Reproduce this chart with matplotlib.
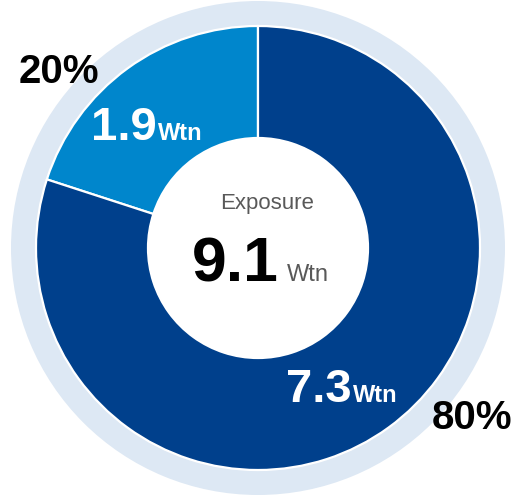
import matplotlib
matplotlib.use("Agg")
import matplotlib.pyplot as plt

plt.rcParams['font.family'] = ['Liberation Sans', 'DejaVu Sans']

# data
values = [1.9, 7.3]
share_pct = [20, 80]
colors = ['#0086cc', '#00408c']
total = 9.1
center_title = 'Exposure'
unit = 'Wtn'

W, H = 519, 495
fig = plt.figure(figsize=(W / 100, H / 100), dpi=100)
ax = fig.add_axes([0, 0, 1, 1])

cx, cy = 258, H - 248

# light background ring
ax.pie([1], radius=247, center=(cx, cy), colors=['#dde8f4'],
       wedgeprops=dict(width=26, edgecolor='none'))
# main donut, slices sized by share
ax.pie(share_pct, radius=222, center=(cx, cy), colors=colors, startangle=90,
       counterclock=True,
       wedgeprops=dict(width=112, edgecolor='white', linewidth=1.6))

ax.set_xlim(0, W)
ax.set_ylim(0, H)
ax.set_aspect('equal')
ax.axis('off')


def py(y):
    return H - y


# slice value labels
ax.text(157, py(140), f'{values[0]}', color='white', fontsize=34,
        fontweight='bold', ha='right', va='baseline')
ax.text(158, py(140), unit, color='white', fontsize=17,
        fontweight='bold', ha='left', va='baseline')
ax.text(352, py(402), f'{values[1]}', color='white', fontsize=34,
        fontweight='bold', ha='right', va='baseline')
ax.text(353, py(402), unit, color='white', fontsize=17,
        fontweight='bold', ha='left', va='baseline')

# percentage labels
ax.text(59, py(72), f'{share_pct[0]}%', color='black', fontsize=29,
        fontweight='bold', ha='center', va='center')
ax.text(472, py(418), f'{share_pct[1]}%', color='black', fontsize=29,
        fontweight='bold', ha='center', va='center')

# centre text
ax.text(267, py(204), center_title, color='#595959', fontsize=16,
        ha='center', va='center')
ax.text(279, py(281), f'{total}', color='black', fontsize=45,
        fontweight='bold', ha='right', va='baseline')
ax.text(287, py(281), unit, color='#595959', fontsize=17,
        ha='left', va='baseline')

fig.savefig('out.png', dpi=100)
